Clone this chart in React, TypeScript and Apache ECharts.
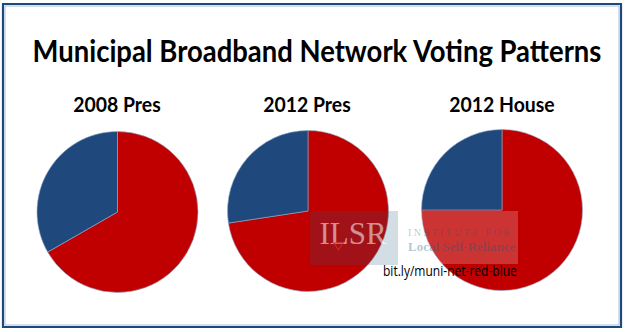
import React, { useEffect, useRef } from "react";
import * as echarts from "echarts";

const chartTitle = "Municipal Broadband Network Voting Patterns";
const pieTitles = ["2008 Pres", "2012 Pres", "2012 House"];
const partyNames = ["Republican", "Democrat"];
const partyColors = ["#c00000", "#1f497d"];
const redShare = [66.7, 72.6, 75];
const blueShare = [33.3, 27.4, 25];
const sourceText = "bit.ly/muni-net-red-blue";

const pieCenters: [number, number][] = [
  [117.5, 212],
  [308, 211],
  [502, 210],
];

export default function App() {
  const ref = useRef<HTMLDivElement>(null);
  useEffect(() => {
    if (!ref.current) return;
    const chart = echarts.init(ref.current, null, { renderer: "svg" });
    const series = pieTitles.map((t, i) => ({
      type: "pie",
      name: t,
      center: pieCenters[i],
      radius: 80.5,
      startAngle: 90,
      clockwise: true,
      label: { show: false },
      labelLine: { show: false },
      silent: true,
      itemStyle: { borderWidth: 0.6, borderColor: "#8fa9c9" },
      data: [
        { name: partyNames[0], value: redShare[i], itemStyle: { color: partyColors[0] } },
        { name: partyNames[1], value: blueShare[i], itemStyle: { color: partyColors[1] } },
      ],
    }));
    const subtitleEls = pieTitles.map((t, i) => ({
      type: "text",
      x: [117, 307, 502][i],
      y: 104,
      scaleX: 0.97,
      style: {
        text: t,
        font: "bold 20px Lato",
        fill: "#000",
        textAlign: "center",
        textVerticalAlign: "middle",
      },
    }));
    chart.setOption({
      animation: false,
      backgroundColor: "#ffffff",
      series,
      graphic: [
        {
          type: "rect",
          shape: { x: 3, y: 4, width: 618, height: 323 },
          style: { fill: "none", stroke: "#1f497d", lineWidth: 2.2 },
          z: 1,
        },
        {
          type: "rect",
          shape: { x: 5, y: 6, width: 614, height: 319 },
          style: { fill: "none", stroke: "#a9bfdc", lineWidth: 1 },
          z: 1,
        },
        {
          type: "text",
          x: 317,
          y: 50,
          scaleX: 0.885,
          style: {
            text: chartTitle,
            font: "bold 31px Lato",
            fill: "#000",
            textAlign: "center",
            textVerticalAlign: "middle",
          },
        },
        ...subtitleEls,
        {
          type: "rect",
          z: 20,
          shape: { x: 310, y: 211, width: 88, height: 54 },
          style: { fill: "rgba(37,90,119,0.2)" },
        },
        {
          type: "rect",
          z: 20,
          shape: { x: 398, y: 211, width: 120, height: 53 },
          style: { fill: "rgba(255,255,255,0.2)" },
        },
        {
          type: "text",
          z: 21,
          x: 353,
          y: 233,
          style: {
            text: "ILSR",
            font: "31px 'Liberation Serif'",
            fill: "rgba(255,255,255,0.55)",
            textAlign: "center",
            textVerticalAlign: "middle",
          },
        },
        {
          type: "polygon",
          z: 21,
          shape: { points: [[334, 243], [343, 243], [338.5, 250]] },
          style: { fill: "none", stroke: "rgba(210,40,40,0.9)", lineWidth: 1.2 },
        },
        {
          type: "text",
          z: 21,
          x: 408,
          y: 232,
          style: {
            text: "I N S T I T U T E   F O R",
            font: "10px 'Liberation Serif'",
            fill: "rgba(37,90,119,0.35)",
            textAlign: "left",
            textVerticalAlign: "middle",
          },
        },
        {
          type: "text",
          z: 21,
          x: 408,
          y: 246,
          style: {
            text: "Local Self-Reliance",
            font: "bold 13px 'Liberation Serif'",
            fill: "rgba(37,90,119,0.35)",
            textAlign: "left",
            textVerticalAlign: "middle",
          },
        },
        {
          type: "text",
          z: 22,
          x: 383,
          y: 271,
          scaleX: 0.86,
          style: {
            text: sourceText,
            font: "14px 'Open Sans'",
            fill: "#000",
            textAlign: "left",
            textVerticalAlign: "middle",
          },
        },
      ],
    });
    return () => chart.dispose();
  }, []);
  return (
    <div
      ref={ref}
      style={{ position: "fixed", left: 0, top: 0, width: 625, height: 332 }}
    />
  );
}
